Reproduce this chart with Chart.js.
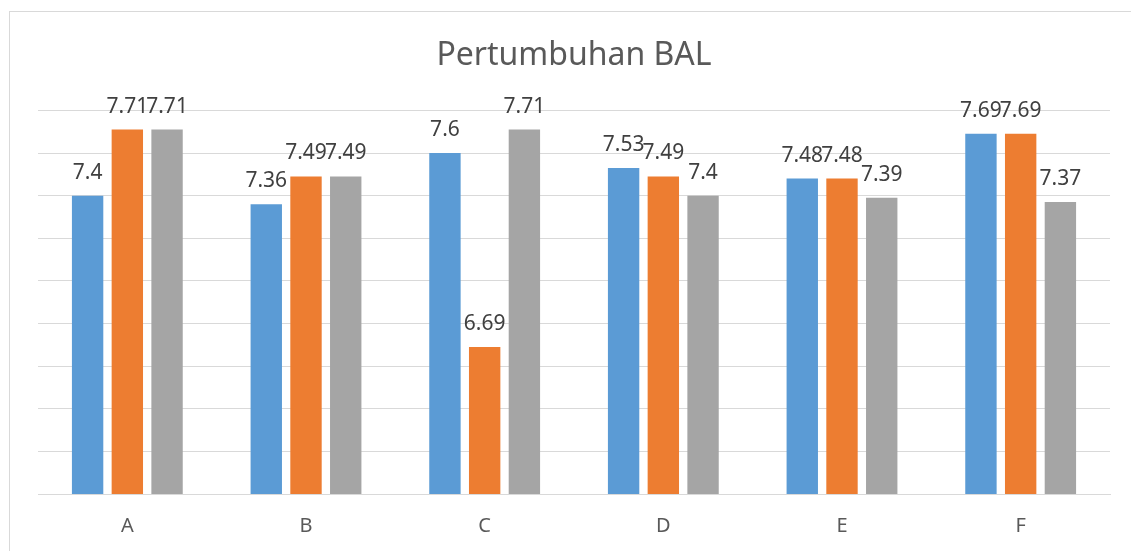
<!DOCTYPE html>
<html>
<head>
<meta charset="utf-8">
<script src="https://cdn.jsdelivr.net/npm/chart.js@4"></script>
<style>
    body { margin: 0; background: #fff; overflow: hidden; }
    #frame { position: absolute; left: 9px; top: 11px; width: 1140px; height: 560px; border: 1px solid #d9d9d9; }
    #wrap { position: absolute; left: 0; top: 0; width: 1131px; height: 551px; }
</style>
</head>
<body>
<div id="frame"></div>
<div id="wrap"><canvas id="chart"></canvas></div>
<script>
const kategori = ['A', 'B', 'C', 'D', 'E', 'F'];
const seri1 = [7.4, 7.36, 7.6, 7.53, 7.48, 7.69];
const seri2 = [7.71, 7.49, 6.69, 7.49, 7.48, 7.69];
const seri3 = [7.71, 7.49, 7.71, 7.4, 7.39, 7.37];
const warna = ['#5b9bd5', '#ed7d31', '#a5a5a5'];

// tulis nilai di atas setiap batang
const labelNilai = {
    id: 'labelNilai',
    afterDatasetsDraw(chart) {
        const ctx = chart.ctx;
        ctx.save();
        ctx.font = '21px "Noto Sans"';
        ctx.fillStyle = '#404040';
        ctx.textAlign = 'center';
        ctx.textBaseline = 'alphabetic';
        chart.data.datasets.forEach((ds, i) => {
            chart.getDatasetMeta(i).data.forEach((bar, j) => {
                ctx.fillText(String(ds.data[j]), bar.x, bar.y - 17);
            });
        });
        ctx.restore();
    }
};

const ctx = document.getElementById('chart').getContext('2d');
new Chart(ctx, {
    type: 'bar',
    data: {
        labels: kategori,
        datasets: [
            { label: 'Series1', data: seri1, backgroundColor: warna[0] },
            { label: 'Series2', data: seri2, backgroundColor: warna[1] },
            { label: 'Series3', data: seri3, backgroundColor: warna[2] }
        ]
    },
    options: {
        responsive: true,
        maintainAspectRatio: false,
        animation: false,
        categoryPercentage: 0.667,
        barPercentage: 0.79,
        layout: { padding: { left: 38, right: 21, top: 10, bottom: -7 } },
        plugins: {
            legend: { display: false },
            tooltip: { enabled: false },
            title: {
                display: true,
                text: 'Pertumbuhan BAL',
                color: '#595959',
                font: { family: 'Noto Sans', size: 32, weight: 'normal' },
                padding: { top: 27, bottom: 35 }
            }
        },
        scales: {
            x: {
                grid: { display: false, drawTicks: false },
                border: { display: true, color: '#d9d9d9', width: 1 },
                ticks: { color: '#595959', font: { family: 'Noto Sans', size: 20 }, padding: 20 }
            },
            y: {
                min: 6.0,
                max: 7.8,
                ticks: { display: false, stepSize: 0.2 },
                border: { display: false },
                grid: { color: '#d9d9d9', lineWidth: 1, drawTicks: false }
            }
        }
    },
    plugins: [labelNilai]
});
</script>
</body>
</html>
